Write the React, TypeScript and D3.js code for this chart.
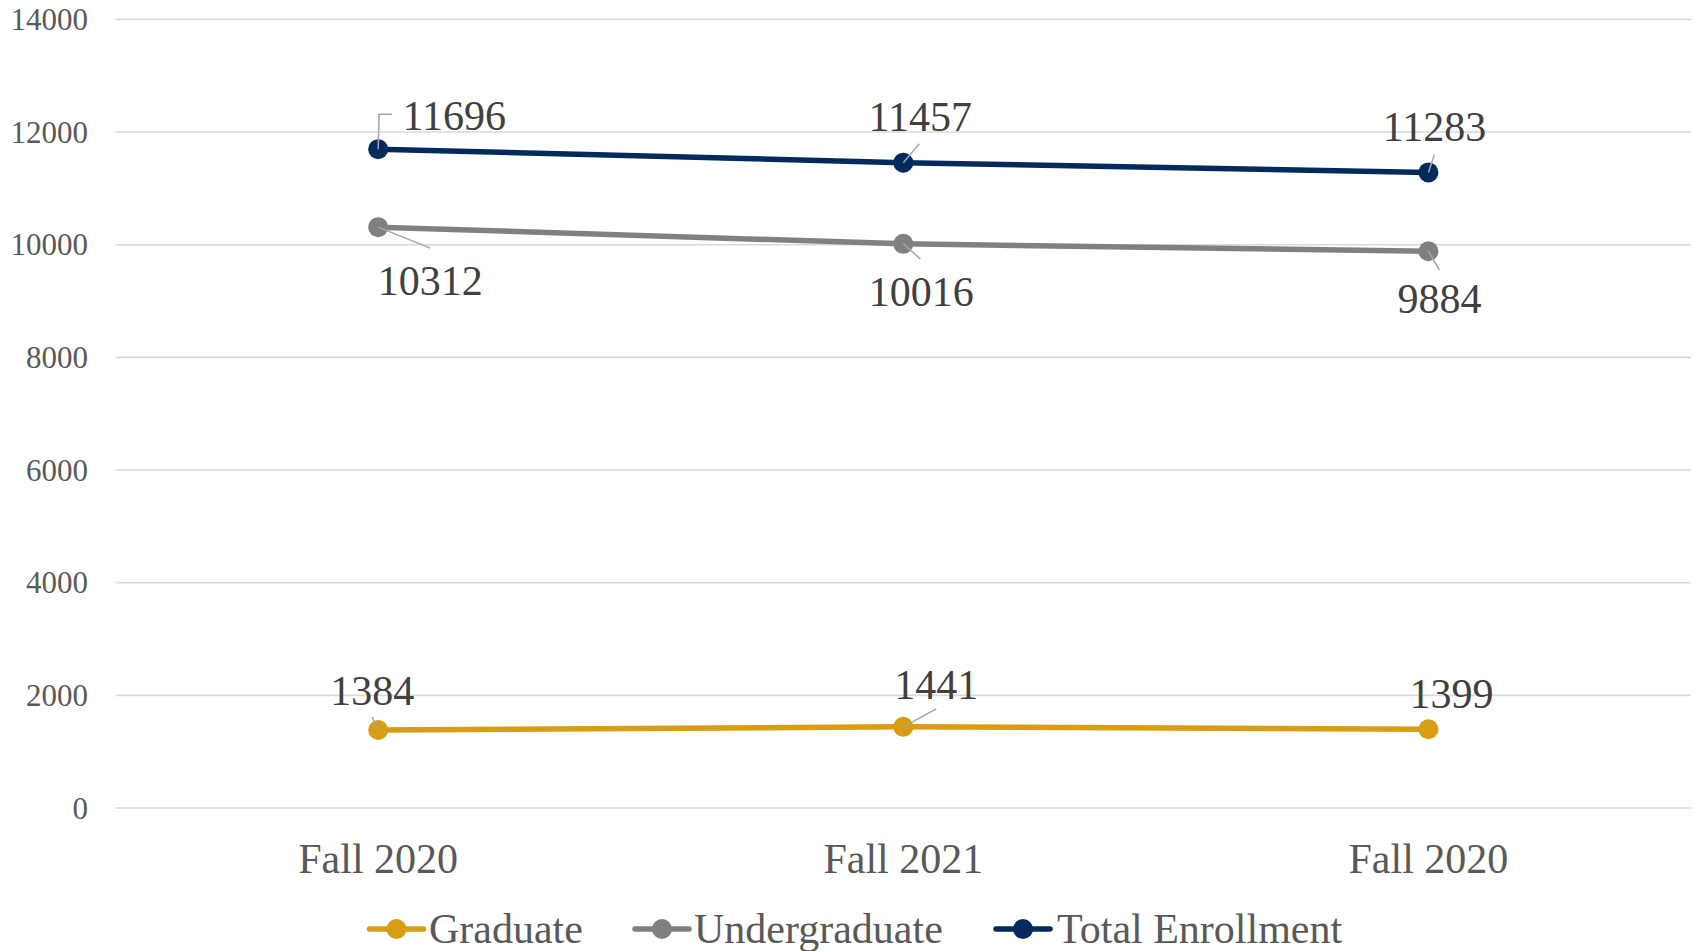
import React from "react";
import * as d3 from "d3";

const categories = ["Fall 2020", "Fall 2021", "Fall 2020 "];
const graduate = [1384, 1441, 1399];
const undergraduate = [10312, 10016, 9884];
const totalEnrollment = [11696, 11457, 11283];
const yTicks = [0, 2000, 4000, 6000, 8000, 10000, 12000, 14000];
const seriesNames = ["Graduate", "Undergraduate", "Total Enrollment"];
const seriesColors = ["#D89D12", "#808080", "#032A5C"];

// label placement offsets (px) relative to the data point: [dx, dy, leaderX, leaderY, leaderKind]
const labelOffsets = [
  [
    [-6, -25, -6, -13, 1],
    [33, -28, 33, -18, 1],
    [23, -21, 0, 0, 0],
  ],
  [
    [52, 68, 52, 21, 1],
    [18, 62, 17, 15, 1],
    [11, 62, 11, 19, 1],
  ],
  [
    [76, -19, 14, -35, 2],
    [17, -32, 16, -19, 1],
    [6, -31, 6, -18, 1],
  ],
];

const W = 1694;
const H = 951;
const M = { left: 115.6, right: 1691, top: 19.4, bottom: 808 };
const FONT = "'Liberation Serif', 'Times New Roman', serif";

export default function App() {
  const x = d3.scaleBand<number>().domain([0, 1, 2]).range([M.left, M.right]);
  const cx = (i: number) => (x(i) as number) + x.bandwidth() / 2;
  const y = d3.scaleLinear().domain([0, 14000]).range([M.bottom, M.top]);
  const series = [graduate, undergraduate, totalEnrollment];
  const line = d3
    .line<number>()
    .x((_, i) => cx(i))
    .y((d) => y(d));

  const legendItems = [
    { lineX: 369.5, textX: 429 },
    { lineX: 635, textX: 694 },
    { lineX: 996, textX: 1057 },
  ];
  const legendY = 929;

  return (
    <svg
      width={W}
      height={H}
      style={{ position: "absolute", left: 0, top: 0, background: "#fff" }}
      fontFamily={FONT}
    >
      {yTicks.map((t) => (
        <g key={t}>
          <line x1={M.left} x2={M.right} y1={y(t)} y2={y(t)} stroke="#D9D9D9" strokeWidth={1.6} />
          <text x={88} y={y(t)} dy="0.34em" textAnchor="end" fontSize={31} fill="#595959">
            {t}
          </text>
        </g>
      ))}
      {categories.map((c, i) => (
        <text key={i} x={cx(i)} y={873} textAnchor="middle" fontSize={42} fill="#595959">
          {c.trim()}
        </text>
      ))}
      {series.map((s, si) => (
        <g key={si}>
          <path d={line(s) || ""} fill="none" stroke={seriesColors[si]} strokeWidth={5.5} strokeLinejoin="round" />
          {s.map((v, i) => (
            <circle key={i} cx={cx(i)} cy={y(v)} r={10} fill={seriesColors[si]} />
          ))}
        </g>
      ))}
      {series.map((s, si) =>
        s.map((v, i) => {
          const [dx, dy, lx, ly, lead] = labelOffsets[si][i];
          const px = cx(i);
          const py = y(v);
          return (
            <g key={`${si}-${i}`}>
              {lead === 1 && (
                <line x1={px} y1={py} x2={px + lx} y2={py + ly} stroke="#A6A6A6" strokeWidth={1.5} />
              )}
              {lead === 2 && (
                <polyline
                  points={`${px},${py} ${px + 1},${py + ly} ${px + lx},${py + ly}`}
                  fill="none"
                  stroke="#A6A6A6"
                  strokeWidth={1.5}
                />
              )}
              <text x={px + dx} y={py + dy} textAnchor="middle" fontSize={42} fill="#404040">
                {v}
              </text>
            </g>
          );
        })
      )}
      {legendItems.map((li, i) => (
        <g key={i}>
          <line
            x1={li.lineX}
            x2={li.lineX + 54}
            y1={legendY}
            y2={legendY}
            stroke={seriesColors[i]}
            strokeWidth={5.5}
            strokeLinecap="round"
          />
          <circle cx={li.lineX + 27} cy={legendY} r={10} fill={seriesColors[i]} />
          <text x={li.textX} y={legendY + 14} fontSize={42} fill="#595959">
            {seriesNames[i]}
          </text>
        </g>
      ))}
    </svg>
  );
}
